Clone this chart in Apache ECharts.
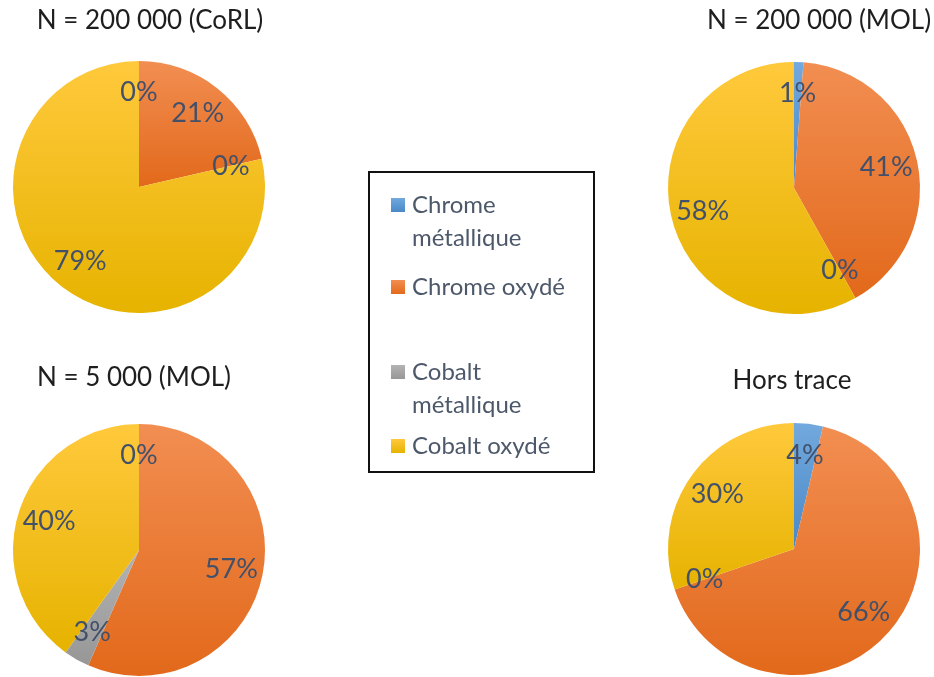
<!DOCTYPE html>
<html>
<head>
<meta charset="utf-8">
<script src="https://cdn.jsdelivr.net/npm/echarts@6/dist/echarts.min.js"></script>
<style>
html,body{margin:0;padding:0;background:#fff;}
#c{width:934px;height:677px;}
</style>
</head>
<body>
<div id="c"></div>
<script>
// ---- data ----
const categories = ["Chrome métallique", "Chrome oxydé", "Cobalt métallique", "Cobalt oxydé"];
const legendLabels = [" \nChrome\nmétallique", "Chrome oxydé", " \nCobalt\nmétallique", "Cobalt oxydé"];
const chartTitles = ["N = 200 000 (CoRL)", "N = 200 000 (MOL)", "N = 5 000 (MOL)", "Hors trace"];
const valuesCoRL200k = [0, 21.4, 0, 78.6];
const valuesMOL200k = [1.2, 40.7, 0, 58.1];
const valuesMOL5k = [0, 56.6, 3.3, 40.1];
const valuesHorsTrace = [3.7, 66.1, 0, 30.2];

// ---- styling ----
const gradients = [
  ["#72A9DE", "#4A88C6"],
  ["#F28E52", "#E2691B"],
  ["#B3B3B3", "#979797"],
  ["#FFC93C", "#E6B300"]
];
function grad(i) {
  return new echarts.graphic.LinearGradient(0, 0, 0, 1, [
    {offset: 0, color: gradients[i][0]},
    {offset: 1, color: gradients[i][1]}
  ]);
}
const FONT = "Lato";
const R = 126;
const pies = [
  {vals: valuesCoRL200k, c: [139, 187], t: [150, 21]},
  {vals: valuesMOL200k, c: [794, 188], t: [819, 21]},
  {vals: valuesMOL5k, c: [139, 550], t: [134, 378]},
  {vals: valuesHorsTrace, c: [794, 549], t: [792, 381]}
];

const series = [];
const titles = [];
pies.forEach((p, k) => {
  const data = categories.map((name, i) => ({name: name, value: p.vals[i], itemStyle: {color: grad(i)}}));
  series.push({
    type: 'pie', name: chartTitles[k], center: p.c, radius: [0, R],
    startAngle: 90, clockwise: true, silent: true, animation: false,
    label: {show: false}, labelLine: {show: false},
    itemStyle: {borderWidth: 0},
    data: data
  });
  series.push({
    type: 'pie', name: chartTitles[k] + ' labels', center: p.c, radius: [0, R * 1.45],
    startAngle: 90, clockwise: true, silent: true, animation: false,
    itemStyle: {color: 'rgba(0,0,0,0)', borderWidth: 0},
    label: {
      show: true, position: 'inside', color: '#42506A', fontFamily: FONT, fontSize: 27,
      formatter: (pp) => Math.round(pp.value) + '%'
    },
    labelLine: {show: false},
    data: categories.map((name, i) => ({name: name, value: p.vals[i]}))
  });
  titles.push({
    text: chartTitles[k], left: p.t[0], top: p.t[1], padding: 0,
    textAlign: 'center', textVerticalAlign: 'middle',
    textStyle: {fontFamily: FONT, fontSize: 26, fontWeight: 'normal', color: '#1E1E1E'}
  });
});

const LH = 33;
const legendIconCenters = [205, 287, 372, 446];
const legends = categories.map((name, i) => {
  const nLines = legendLabels[i].split('\n').length;
  return {
    orient: 'vertical', left: 391, top: legendIconCenters[i] - nLines * LH / 2, padding: 0,
    itemWidth: 14, itemHeight: 14, icon: 'rect',
    selectedMode: false,
    data: [name],
    formatter: () => legendLabels[i],
    textStyle: {
      fontFamily: FONT, fontSize: 24, color: '#4D596A', lineHeight: LH,
      backgroundColor: 'rgba(255,255,255,0)',
      padding: [0, 0, 0, 2]
    }
  };
});

const chart = echarts.init(document.getElementById('c'), null, {renderer: 'canvas'});
chart.setOption({
  backgroundColor: '#ffffff',
  animation: false,
  title: titles,
  legend: legends,
  graphic: [{
    type: 'rect', silent: true,
    shape: {x: 369, y: 172, width: 225, height: 300},
    style: {fill: 'none', stroke: '#111', lineWidth: 2}
  }],
  series: series
});
</script>
</body>
</html>
